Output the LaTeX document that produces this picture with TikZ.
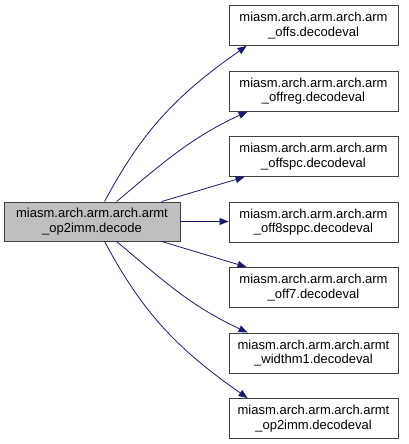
\documentclass[tikz,border=0pt]{standalone}
\usepackage{fontspec}
\setmainfont{Liberation Sans}
\usetikzlibrary{arrows.meta}
\definecolor{edgeblue}{HTML}{191970}
\definecolor{boxgray}{HTML}{BFBFBF}
\begin{document}
\begin{tikzpicture}[x=1pt,y=-1pt,>={Triangle[length=9pt,width=7pt]},
	font=\fontsize{13}{14.5}\selectfont,
	fn/.style={draw=black!75,line width=0.9pt,align=center,minimum width=169pt,minimum height=40pt,inner sep=0pt},
	cur/.style={fn,fill=boxgray,minimum width=176pt,minimum height=39pt},
	call/.style={->,draw=edgeblue,line width=0.8pt}]
	\useasboundingbox (0,0) rectangle (408,444);
	\node[cur] (src) at (92,221.5) {miasm.arch.arm.arch.armt\\\_op2imm.decode};
	\node[fn] (offs) at (313.5,25.5) {miasm.arch.arm.arch.arm\\\_offs.decodeval};
	\node[fn] (offreg) at (313.5,91) {miasm.arch.arm.arch.arm\\\_offreg.decodeval};
	\node[fn] (offspc) at (313.5,156.5) {miasm.arch.arm.arch.arm\\\_offspc.decodeval};
	\node[fn] (offsppc) at (313.5,222) {miasm.arch.arm.arch.arm\\\_off8sppc.decodeval};
	\node[fn] (offseven) at (313.5,287.5) {miasm.arch.arm.arch.arm\\\_off7.decodeval};
	\node[fn] (widthm) at (313.5,353) {miasm.arch.arm.arch.armt\\\_widthm1.decodeval};
	\node[fn] (opimm) at (313.5,418.5) {miasm.arch.arm.arch.armt\\\_op2imm.decodeval};
	% calls
	\draw[call] ([xshift=101pt]src.north west) to[out=62,in=-145] ([xshift=18pt]offs.south west);
	\draw[call] ([xshift=113pt]src.north west) to[out=40,in=-155] ([xshift=19pt]offreg.south west);
	\draw[call] ([xshift=158pt]src.north west) -- ([xshift=16pt]offspc.south west);
	\draw[call] (src.east) -- (offsppc.west |- src.east);
	\draw[call] ([xshift=158pt]src.south west) -- ([xshift=18pt]offseven.north west);
	\draw[call] ([xshift=113pt]src.south west) to[out=-40,in=155] ([xshift=19pt]widthm.north west);
	\draw[call] ([xshift=101pt]src.south west) to[out=-62,in=145] ([xshift=19pt]opimm.north west);
\end{tikzpicture}
\end{document}
